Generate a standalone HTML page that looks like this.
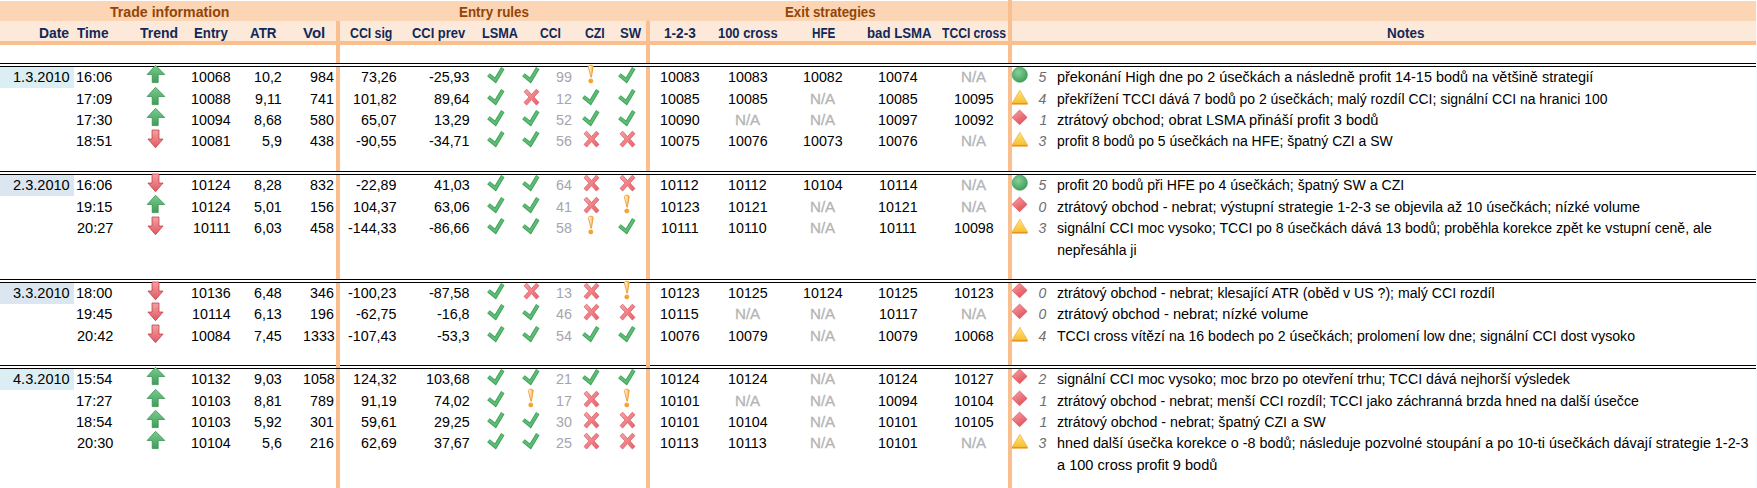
<!DOCTYPE html><html><head><meta charset="utf-8"><style>
html,body{margin:0;padding:0;background:#fff;}body{width:1757px;height:488px;position:relative;overflow:hidden;font-family:"Liberation Sans", sans-serif;}
.b{position:absolute;}.t{position:absolute;white-space:nowrap;font-size:14px;line-height:20px;transform-origin:0 0;}
svg.i{position:absolute;width:18px;height:18px;overflow:visible}
</style></head><body>
<div class="b" style="left:0;top:1px;width:1756px;height:20px;background:#FCD5B4"></div>
<div class="b" style="left:0;top:21px;width:1756px;height:20px;background:#FDE9D9"></div>
<div class="b" style="left:0;top:41px;width:1756px;height:4px;background:#FABF8F"></div>
<div class="b" style="left:336px;top:21px;width:4px;height:467px;background:#FABF8F"></div>
<div class="b" style="left:646px;top:21px;width:4px;height:467px;background:#FABF8F"></div>
<div class="b" style="left:1008px;top:0px;width:4px;height:488px;background:#FABF8F"></div>
<div class="b" style="left:0;top:67px;width:74px;height:21px;background:#DAEEF3"></div>
<div class="b" style="left:0;top:175px;width:74px;height:21px;background:#DCE6F1"></div>
<div class="b" style="left:0;top:283px;width:74px;height:21px;background:#DCE6F1"></div>
<div class="b" style="left:0;top:369px;width:74px;height:21px;background:#DAEEF3"></div>
<div class="b" style="left:0;top:63px;width:1756px;height:1px;background:#000"></div>
<div class="b" style="left:0;top:64px;width:1756px;height:2px;background:#fff"></div>
<div class="b" style="left:0;top:66px;width:1756px;height:1px;background:#000"></div>
<div class="b" style="left:0;top:171px;width:1756px;height:1px;background:#000"></div>
<div class="b" style="left:0;top:172px;width:1756px;height:2px;background:#fff"></div>
<div class="b" style="left:0;top:174px;width:1756px;height:1px;background:#000"></div>
<div class="b" style="left:0;top:279px;width:1756px;height:1px;background:#000"></div>
<div class="b" style="left:0;top:280px;width:1756px;height:2px;background:#fff"></div>
<div class="b" style="left:0;top:282px;width:1756px;height:1px;background:#000"></div>
<div class="b" style="left:0;top:365px;width:1756px;height:1px;background:#000"></div>
<div class="b" style="left:0;top:366px;width:1756px;height:2px;background:#fff"></div>
<div class="b" style="left:0;top:368px;width:1756px;height:1px;background:#000"></div>
<div class="b" style="left:1756px;top:0;width:1px;height:488px;background:#F6F9FC"></div>
<div class="b" style="left:336px;top:365px;width:4px;height:3px;background:#F2B88A"></div>
<div class="b" style="left:646px;top:365px;width:4px;height:3px;background:#F2B88A"></div>
<svg width="0" height="0" style="position:absolute"><defs><linearGradient id="gg" x1="0" y1="0" x2="0" y2="1"><stop offset="0" stop-color="#7ACB8E"/><stop offset="1" stop-color="#3E9E58"/></linearGradient>
<radialGradient id="cg" cx="0.4" cy="0.35" r="0.7"><stop offset="0" stop-color="#86D19A"/><stop offset="1" stop-color="#3C9C56"/></radialGradient>
<linearGradient id="rg" x1="0" y1="0" x2="0" y2="1"><stop offset="0" stop-color="#F4A0A4"/><stop offset="1" stop-color="#E05A62"/></linearGradient>
<linearGradient id="xg" x1="0" y1="0" x2="1" y2="1"><stop offset="0" stop-color="#F4A6AA"/><stop offset="1" stop-color="#EA5E66"/></linearGradient>
<linearGradient id="dg" x1="0" y1="0" x2="0.6" y2="1"><stop offset="0" stop-color="#F6A4A8"/><stop offset="1" stop-color="#E2525B"/></linearGradient><linearGradient id="yg" x1="0" y1="0" x2="0" y2="1"><stop offset="0" stop-color="#FFE680"/><stop offset="1" stop-color="#F8C030"/></linearGradient>
<linearGradient id="eg" x1="0" y1="0" x2="1" y2="0"><stop offset="0.2" stop-color="#FFF6DA"/><stop offset="1" stop-color="#F3AA38"/></linearGradient></defs></svg>
<svg class="i" style="left:147px;top:65px" viewBox="0 0 18 18"><path d="M8.6 0.3 L17.8 9.5 L11.2 9.5 L11.2 17.6 L5.2 17.6 L5.2 9.5 L0.1 9.5 Z" fill="url(#gg)" stroke="#2F8A4A" stroke-width="0.7"/></svg>
<svg class="i" style="left:487px;top:65px" viewBox="0 0 18 18"><path d="M1.4 9.8 L8.4 15.4 L15.8 3.1" fill="none" stroke="#3F9E58" stroke-width="4" stroke-linejoin="miter" stroke-miterlimit="3"/><path d="M1.6 9.9 L8.4 15.3 L15.7 3.3" fill="none" stroke="#5CBD75" stroke-width="2.4" stroke-linejoin="miter" stroke-miterlimit="3"/></svg>
<svg class="i" style="left:522px;top:65px" viewBox="0 0 18 18"><path d="M1.4 9.8 L8.4 15.4 L15.8 3.1" fill="none" stroke="#3F9E58" stroke-width="4" stroke-linejoin="miter" stroke-miterlimit="3"/><path d="M1.6 9.9 L8.4 15.3 L15.7 3.3" fill="none" stroke="#5CBD75" stroke-width="2.4" stroke-linejoin="miter" stroke-miterlimit="3"/></svg>
<svg class="i" style="left:582px;top:65px" viewBox="0 0 18 18"><path d="M6.3 1.5 Q6.8 0.2 8.8 0.2 Q10.9 0.2 11.2 1.5 L9.4 12.2 L8.9 12.2 Z" fill="url(#eg)" stroke="#EC9A30" stroke-width="0.9" stroke-linejoin="round"/><ellipse cx="8.8" cy="15.9" rx="2.1" ry="2.0" fill="#F6A820" stroke="#E8901A" stroke-width="0.6"/></svg>
<svg class="i" style="left:618px;top:65px" viewBox="0 0 18 18"><path d="M1.4 9.8 L8.4 15.4 L15.8 3.1" fill="none" stroke="#3F9E58" stroke-width="4" stroke-linejoin="miter" stroke-miterlimit="3"/><path d="M1.6 9.9 L8.4 15.3 L15.7 3.3" fill="none" stroke="#5CBD75" stroke-width="2.4" stroke-linejoin="miter" stroke-miterlimit="3"/></svg>
<svg class="i" style="left:1012px;top:65px" viewBox="0 0 18 18"><circle cx="7.8" cy="9.75" r="7.6" fill="url(#cg)" stroke="#3A9652" stroke-width="0.6"/></svg>
<svg class="i" style="left:147px;top:86.7px" viewBox="0 0 18 18"><path d="M8.6 0.3 L17.8 9.5 L11.2 9.5 L11.2 17.6 L5.2 17.6 L5.2 9.5 L0.1 9.5 Z" fill="url(#gg)" stroke="#2F8A4A" stroke-width="0.7"/></svg>
<svg class="i" style="left:487px;top:86.7px" viewBox="0 0 18 18"><path d="M1.4 9.8 L8.4 15.4 L15.8 3.1" fill="none" stroke="#3F9E58" stroke-width="4" stroke-linejoin="miter" stroke-miterlimit="3"/><path d="M1.6 9.9 L8.4 15.3 L15.7 3.3" fill="none" stroke="#5CBD75" stroke-width="2.4" stroke-linejoin="miter" stroke-miterlimit="3"/></svg>
<svg class="i" style="left:522px;top:86.7px" viewBox="0 0 18 18"><path d="M2 4.7 L4.7 2.2 L9.5 7.6 L14.3 2.2 L17 4.7 L12 10.1 L17 15.5 L14.3 18 L9.5 12.6 L4.7 18 L2 15.5 L7 10.1 Z" fill="url(#xg)" stroke="#D9505A" stroke-width="0.7" stroke-linejoin="round"/></svg>
<svg class="i" style="left:582px;top:86.7px" viewBox="0 0 18 18"><path d="M1.4 9.8 L8.4 15.4 L15.8 3.1" fill="none" stroke="#3F9E58" stroke-width="4" stroke-linejoin="miter" stroke-miterlimit="3"/><path d="M1.6 9.9 L8.4 15.3 L15.7 3.3" fill="none" stroke="#5CBD75" stroke-width="2.4" stroke-linejoin="miter" stroke-miterlimit="3"/></svg>
<svg class="i" style="left:618px;top:86.7px" viewBox="0 0 18 18"><path d="M1.4 9.8 L8.4 15.4 L15.8 3.1" fill="none" stroke="#3F9E58" stroke-width="4" stroke-linejoin="miter" stroke-miterlimit="3"/><path d="M1.6 9.9 L8.4 15.3 L15.7 3.3" fill="none" stroke="#5CBD75" stroke-width="2.4" stroke-linejoin="miter" stroke-miterlimit="3"/></svg>
<svg class="i" style="left:1012px;top:86.7px" viewBox="0 0 18 18"><path d="M7.8 3.2 L15.6 16.2 L0 16.2 Z" fill="url(#yg)" stroke="#E9A43A" stroke-width="0.6"/><rect x="0" y="16" width="15.6" height="1.6" fill="#E8951E"/></svg>
<svg class="i" style="left:147px;top:108px" viewBox="0 0 18 18"><path d="M8.6 0.3 L17.8 9.5 L11.2 9.5 L11.2 17.6 L5.2 17.6 L5.2 9.5 L0.1 9.5 Z" fill="url(#gg)" stroke="#2F8A4A" stroke-width="0.7"/></svg>
<svg class="i" style="left:487px;top:108px" viewBox="0 0 18 18"><path d="M1.4 9.8 L8.4 15.4 L15.8 3.1" fill="none" stroke="#3F9E58" stroke-width="4" stroke-linejoin="miter" stroke-miterlimit="3"/><path d="M1.6 9.9 L8.4 15.3 L15.7 3.3" fill="none" stroke="#5CBD75" stroke-width="2.4" stroke-linejoin="miter" stroke-miterlimit="3"/></svg>
<svg class="i" style="left:522px;top:108px" viewBox="0 0 18 18"><path d="M1.4 9.8 L8.4 15.4 L15.8 3.1" fill="none" stroke="#3F9E58" stroke-width="4" stroke-linejoin="miter" stroke-miterlimit="3"/><path d="M1.6 9.9 L8.4 15.3 L15.7 3.3" fill="none" stroke="#5CBD75" stroke-width="2.4" stroke-linejoin="miter" stroke-miterlimit="3"/></svg>
<svg class="i" style="left:582px;top:108px" viewBox="0 0 18 18"><path d="M1.4 9.8 L8.4 15.4 L15.8 3.1" fill="none" stroke="#3F9E58" stroke-width="4" stroke-linejoin="miter" stroke-miterlimit="3"/><path d="M1.6 9.9 L8.4 15.3 L15.7 3.3" fill="none" stroke="#5CBD75" stroke-width="2.4" stroke-linejoin="miter" stroke-miterlimit="3"/></svg>
<svg class="i" style="left:618px;top:108px" viewBox="0 0 18 18"><path d="M1.4 9.8 L8.4 15.4 L15.8 3.1" fill="none" stroke="#3F9E58" stroke-width="4" stroke-linejoin="miter" stroke-miterlimit="3"/><path d="M1.6 9.9 L8.4 15.3 L15.7 3.3" fill="none" stroke="#5CBD75" stroke-width="2.4" stroke-linejoin="miter" stroke-miterlimit="3"/></svg>
<svg class="i" style="left:1012px;top:108px" viewBox="0 0 18 18"><path d="M7.6 2.1 L15.1 9.4 L7.6 16.7 L0.1 9.4 Z" fill="url(#dg)" stroke="#D9505A" stroke-width="0.7" stroke-linejoin="round"/></svg>
<svg class="i" style="left:147px;top:129px" viewBox="0 0 18 18"><path d="M5 1 L12 1 L12 10 L16.1 10 L8.5 18.7 L0.9 10 L5 10 Z" fill="url(#rg)" stroke="#B8333B" stroke-width="0.7"/></svg>
<svg class="i" style="left:487px;top:129px" viewBox="0 0 18 18"><path d="M1.4 9.8 L8.4 15.4 L15.8 3.1" fill="none" stroke="#3F9E58" stroke-width="4" stroke-linejoin="miter" stroke-miterlimit="3"/><path d="M1.6 9.9 L8.4 15.3 L15.7 3.3" fill="none" stroke="#5CBD75" stroke-width="2.4" stroke-linejoin="miter" stroke-miterlimit="3"/></svg>
<svg class="i" style="left:522px;top:129px" viewBox="0 0 18 18"><path d="M1.4 9.8 L8.4 15.4 L15.8 3.1" fill="none" stroke="#3F9E58" stroke-width="4" stroke-linejoin="miter" stroke-miterlimit="3"/><path d="M1.6 9.9 L8.4 15.3 L15.7 3.3" fill="none" stroke="#5CBD75" stroke-width="2.4" stroke-linejoin="miter" stroke-miterlimit="3"/></svg>
<svg class="i" style="left:582px;top:129px" viewBox="0 0 18 18"><path d="M2 4.7 L4.7 2.2 L9.5 7.6 L14.3 2.2 L17 4.7 L12 10.1 L17 15.5 L14.3 18 L9.5 12.6 L4.7 18 L2 15.5 L7 10.1 Z" fill="url(#xg)" stroke="#D9505A" stroke-width="0.7" stroke-linejoin="round"/></svg>
<svg class="i" style="left:618px;top:129px" viewBox="0 0 18 18"><path d="M2 4.7 L4.7 2.2 L9.5 7.6 L14.3 2.2 L17 4.7 L12 10.1 L17 15.5 L14.3 18 L9.5 12.6 L4.7 18 L2 15.5 L7 10.1 Z" fill="url(#xg)" stroke="#D9505A" stroke-width="0.7" stroke-linejoin="round"/></svg>
<svg class="i" style="left:1012px;top:129px" viewBox="0 0 18 18"><path d="M7.8 3.2 L15.6 16.2 L0 16.2 Z" fill="url(#yg)" stroke="#E9A43A" stroke-width="0.6"/><rect x="0" y="16" width="15.6" height="1.6" fill="#E8951E"/></svg>
<svg class="i" style="left:147px;top:173px" viewBox="0 0 18 18"><path d="M5 1 L12 1 L12 10 L16.1 10 L8.5 18.7 L0.9 10 L5 10 Z" fill="url(#rg)" stroke="#B8333B" stroke-width="0.7"/></svg>
<svg class="i" style="left:487px;top:173px" viewBox="0 0 18 18"><path d="M1.4 9.8 L8.4 15.4 L15.8 3.1" fill="none" stroke="#3F9E58" stroke-width="4" stroke-linejoin="miter" stroke-miterlimit="3"/><path d="M1.6 9.9 L8.4 15.3 L15.7 3.3" fill="none" stroke="#5CBD75" stroke-width="2.4" stroke-linejoin="miter" stroke-miterlimit="3"/></svg>
<svg class="i" style="left:522px;top:173px" viewBox="0 0 18 18"><path d="M1.4 9.8 L8.4 15.4 L15.8 3.1" fill="none" stroke="#3F9E58" stroke-width="4" stroke-linejoin="miter" stroke-miterlimit="3"/><path d="M1.6 9.9 L8.4 15.3 L15.7 3.3" fill="none" stroke="#5CBD75" stroke-width="2.4" stroke-linejoin="miter" stroke-miterlimit="3"/></svg>
<svg class="i" style="left:582px;top:173px" viewBox="0 0 18 18"><path d="M2 4.7 L4.7 2.2 L9.5 7.6 L14.3 2.2 L17 4.7 L12 10.1 L17 15.5 L14.3 18 L9.5 12.6 L4.7 18 L2 15.5 L7 10.1 Z" fill="url(#xg)" stroke="#D9505A" stroke-width="0.7" stroke-linejoin="round"/></svg>
<svg class="i" style="left:618px;top:173px" viewBox="0 0 18 18"><path d="M2 4.7 L4.7 2.2 L9.5 7.6 L14.3 2.2 L17 4.7 L12 10.1 L17 15.5 L14.3 18 L9.5 12.6 L4.7 18 L2 15.5 L7 10.1 Z" fill="url(#xg)" stroke="#D9505A" stroke-width="0.7" stroke-linejoin="round"/></svg>
<svg class="i" style="left:1012px;top:173px" viewBox="0 0 18 18"><circle cx="7.8" cy="9.75" r="7.6" fill="url(#cg)" stroke="#3A9652" stroke-width="0.6"/></svg>
<svg class="i" style="left:147px;top:194.8px" viewBox="0 0 18 18"><path d="M8.6 0.3 L17.8 9.5 L11.2 9.5 L11.2 17.6 L5.2 17.6 L5.2 9.5 L0.1 9.5 Z" fill="url(#gg)" stroke="#2F8A4A" stroke-width="0.7"/></svg>
<svg class="i" style="left:487px;top:194.8px" viewBox="0 0 18 18"><path d="M1.4 9.8 L8.4 15.4 L15.8 3.1" fill="none" stroke="#3F9E58" stroke-width="4" stroke-linejoin="miter" stroke-miterlimit="3"/><path d="M1.6 9.9 L8.4 15.3 L15.7 3.3" fill="none" stroke="#5CBD75" stroke-width="2.4" stroke-linejoin="miter" stroke-miterlimit="3"/></svg>
<svg class="i" style="left:522px;top:194.8px" viewBox="0 0 18 18"><path d="M1.4 9.8 L8.4 15.4 L15.8 3.1" fill="none" stroke="#3F9E58" stroke-width="4" stroke-linejoin="miter" stroke-miterlimit="3"/><path d="M1.6 9.9 L8.4 15.3 L15.7 3.3" fill="none" stroke="#5CBD75" stroke-width="2.4" stroke-linejoin="miter" stroke-miterlimit="3"/></svg>
<svg class="i" style="left:582px;top:194.8px" viewBox="0 0 18 18"><path d="M2 4.7 L4.7 2.2 L9.5 7.6 L14.3 2.2 L17 4.7 L12 10.1 L17 15.5 L14.3 18 L9.5 12.6 L4.7 18 L2 15.5 L7 10.1 Z" fill="url(#xg)" stroke="#D9505A" stroke-width="0.7" stroke-linejoin="round"/></svg>
<svg class="i" style="left:618px;top:194.8px" viewBox="0 0 18 18"><path d="M6.3 1.5 Q6.8 0.2 8.8 0.2 Q10.9 0.2 11.2 1.5 L9.4 12.2 L8.9 12.2 Z" fill="url(#eg)" stroke="#EC9A30" stroke-width="0.9" stroke-linejoin="round"/><ellipse cx="8.8" cy="15.9" rx="2.1" ry="2.0" fill="#F6A820" stroke="#E8901A" stroke-width="0.6"/></svg>
<svg class="i" style="left:1012px;top:194.8px" viewBox="0 0 18 18"><path d="M7.6 2.1 L15.1 9.4 L7.6 16.7 L0.1 9.4 Z" fill="url(#dg)" stroke="#D9505A" stroke-width="0.7" stroke-linejoin="round"/></svg>
<svg class="i" style="left:147px;top:216px" viewBox="0 0 18 18"><path d="M5 1 L12 1 L12 10 L16.1 10 L8.5 18.7 L0.9 10 L5 10 Z" fill="url(#rg)" stroke="#B8333B" stroke-width="0.7"/></svg>
<svg class="i" style="left:487px;top:216px" viewBox="0 0 18 18"><path d="M1.4 9.8 L8.4 15.4 L15.8 3.1" fill="none" stroke="#3F9E58" stroke-width="4" stroke-linejoin="miter" stroke-miterlimit="3"/><path d="M1.6 9.9 L8.4 15.3 L15.7 3.3" fill="none" stroke="#5CBD75" stroke-width="2.4" stroke-linejoin="miter" stroke-miterlimit="3"/></svg>
<svg class="i" style="left:522px;top:216px" viewBox="0 0 18 18"><path d="M1.4 9.8 L8.4 15.4 L15.8 3.1" fill="none" stroke="#3F9E58" stroke-width="4" stroke-linejoin="miter" stroke-miterlimit="3"/><path d="M1.6 9.9 L8.4 15.3 L15.7 3.3" fill="none" stroke="#5CBD75" stroke-width="2.4" stroke-linejoin="miter" stroke-miterlimit="3"/></svg>
<svg class="i" style="left:582px;top:216px" viewBox="0 0 18 18"><path d="M6.3 1.5 Q6.8 0.2 8.8 0.2 Q10.9 0.2 11.2 1.5 L9.4 12.2 L8.9 12.2 Z" fill="url(#eg)" stroke="#EC9A30" stroke-width="0.9" stroke-linejoin="round"/><ellipse cx="8.8" cy="15.9" rx="2.1" ry="2.0" fill="#F6A820" stroke="#E8901A" stroke-width="0.6"/></svg>
<svg class="i" style="left:618px;top:216px" viewBox="0 0 18 18"><path d="M1.4 9.8 L8.4 15.4 L15.8 3.1" fill="none" stroke="#3F9E58" stroke-width="4" stroke-linejoin="miter" stroke-miterlimit="3"/><path d="M1.6 9.9 L8.4 15.3 L15.7 3.3" fill="none" stroke="#5CBD75" stroke-width="2.4" stroke-linejoin="miter" stroke-miterlimit="3"/></svg>
<svg class="i" style="left:1012px;top:216px" viewBox="0 0 18 18"><path d="M7.8 3.2 L15.6 16.2 L0 16.2 Z" fill="url(#yg)" stroke="#E9A43A" stroke-width="0.6"/><rect x="0" y="16" width="15.6" height="1.6" fill="#E8951E"/></svg>
<svg class="i" style="left:147px;top:280.5px" viewBox="0 0 18 18"><path d="M5 1 L12 1 L12 10 L16.1 10 L8.5 18.7 L0.9 10 L5 10 Z" fill="url(#rg)" stroke="#B8333B" stroke-width="0.7"/></svg>
<svg class="i" style="left:487px;top:280.5px" viewBox="0 0 18 18"><path d="M1.4 9.8 L8.4 15.4 L15.8 3.1" fill="none" stroke="#3F9E58" stroke-width="4" stroke-linejoin="miter" stroke-miterlimit="3"/><path d="M1.6 9.9 L8.4 15.3 L15.7 3.3" fill="none" stroke="#5CBD75" stroke-width="2.4" stroke-linejoin="miter" stroke-miterlimit="3"/></svg>
<svg class="i" style="left:522px;top:280.5px" viewBox="0 0 18 18"><path d="M2 4.7 L4.7 2.2 L9.5 7.6 L14.3 2.2 L17 4.7 L12 10.1 L17 15.5 L14.3 18 L9.5 12.6 L4.7 18 L2 15.5 L7 10.1 Z" fill="url(#xg)" stroke="#D9505A" stroke-width="0.7" stroke-linejoin="round"/></svg>
<svg class="i" style="left:582px;top:280.5px" viewBox="0 0 18 18"><path d="M2 4.7 L4.7 2.2 L9.5 7.6 L14.3 2.2 L17 4.7 L12 10.1 L17 15.5 L14.3 18 L9.5 12.6 L4.7 18 L2 15.5 L7 10.1 Z" fill="url(#xg)" stroke="#D9505A" stroke-width="0.7" stroke-linejoin="round"/></svg>
<svg class="i" style="left:618px;top:280.5px" viewBox="0 0 18 18"><path d="M6.3 1.5 Q6.8 0.2 8.8 0.2 Q10.9 0.2 11.2 1.5 L9.4 12.2 L8.9 12.2 Z" fill="url(#eg)" stroke="#EC9A30" stroke-width="0.9" stroke-linejoin="round"/><ellipse cx="8.8" cy="15.9" rx="2.1" ry="2.0" fill="#F6A820" stroke="#E8901A" stroke-width="0.6"/></svg>
<svg class="i" style="left:1012px;top:280.5px" viewBox="0 0 18 18"><path d="M7.6 2.1 L15.1 9.4 L7.6 16.7 L0.1 9.4 Z" fill="url(#dg)" stroke="#D9505A" stroke-width="0.7" stroke-linejoin="round"/></svg>
<svg class="i" style="left:147px;top:302.3px" viewBox="0 0 18 18"><path d="M5 1 L12 1 L12 10 L16.1 10 L8.5 18.7 L0.9 10 L5 10 Z" fill="url(#rg)" stroke="#B8333B" stroke-width="0.7"/></svg>
<svg class="i" style="left:487px;top:302.3px" viewBox="0 0 18 18"><path d="M1.4 9.8 L8.4 15.4 L15.8 3.1" fill="none" stroke="#3F9E58" stroke-width="4" stroke-linejoin="miter" stroke-miterlimit="3"/><path d="M1.6 9.9 L8.4 15.3 L15.7 3.3" fill="none" stroke="#5CBD75" stroke-width="2.4" stroke-linejoin="miter" stroke-miterlimit="3"/></svg>
<svg class="i" style="left:522px;top:302.3px" viewBox="0 0 18 18"><path d="M1.4 9.8 L8.4 15.4 L15.8 3.1" fill="none" stroke="#3F9E58" stroke-width="4" stroke-linejoin="miter" stroke-miterlimit="3"/><path d="M1.6 9.9 L8.4 15.3 L15.7 3.3" fill="none" stroke="#5CBD75" stroke-width="2.4" stroke-linejoin="miter" stroke-miterlimit="3"/></svg>
<svg class="i" style="left:582px;top:302.3px" viewBox="0 0 18 18"><path d="M2 4.7 L4.7 2.2 L9.5 7.6 L14.3 2.2 L17 4.7 L12 10.1 L17 15.5 L14.3 18 L9.5 12.6 L4.7 18 L2 15.5 L7 10.1 Z" fill="url(#xg)" stroke="#D9505A" stroke-width="0.7" stroke-linejoin="round"/></svg>
<svg class="i" style="left:618px;top:302.3px" viewBox="0 0 18 18"><path d="M2 4.7 L4.7 2.2 L9.5 7.6 L14.3 2.2 L17 4.7 L12 10.1 L17 15.5 L14.3 18 L9.5 12.6 L4.7 18 L2 15.5 L7 10.1 Z" fill="url(#xg)" stroke="#D9505A" stroke-width="0.7" stroke-linejoin="round"/></svg>
<svg class="i" style="left:1012px;top:302.3px" viewBox="0 0 18 18"><path d="M7.6 2.1 L15.1 9.4 L7.6 16.7 L0.1 9.4 Z" fill="url(#dg)" stroke="#D9505A" stroke-width="0.7" stroke-linejoin="round"/></svg>
<svg class="i" style="left:147px;top:324px" viewBox="0 0 18 18"><path d="M5 1 L12 1 L12 10 L16.1 10 L8.5 18.7 L0.9 10 L5 10 Z" fill="url(#rg)" stroke="#B8333B" stroke-width="0.7"/></svg>
<svg class="i" style="left:487px;top:324px" viewBox="0 0 18 18"><path d="M1.4 9.8 L8.4 15.4 L15.8 3.1" fill="none" stroke="#3F9E58" stroke-width="4" stroke-linejoin="miter" stroke-miterlimit="3"/><path d="M1.6 9.9 L8.4 15.3 L15.7 3.3" fill="none" stroke="#5CBD75" stroke-width="2.4" stroke-linejoin="miter" stroke-miterlimit="3"/></svg>
<svg class="i" style="left:522px;top:324px" viewBox="0 0 18 18"><path d="M1.4 9.8 L8.4 15.4 L15.8 3.1" fill="none" stroke="#3F9E58" stroke-width="4" stroke-linejoin="miter" stroke-miterlimit="3"/><path d="M1.6 9.9 L8.4 15.3 L15.7 3.3" fill="none" stroke="#5CBD75" stroke-width="2.4" stroke-linejoin="miter" stroke-miterlimit="3"/></svg>
<svg class="i" style="left:582px;top:324px" viewBox="0 0 18 18"><path d="M1.4 9.8 L8.4 15.4 L15.8 3.1" fill="none" stroke="#3F9E58" stroke-width="4" stroke-linejoin="miter" stroke-miterlimit="3"/><path d="M1.6 9.9 L8.4 15.3 L15.7 3.3" fill="none" stroke="#5CBD75" stroke-width="2.4" stroke-linejoin="miter" stroke-miterlimit="3"/></svg>
<svg class="i" style="left:618px;top:324px" viewBox="0 0 18 18"><path d="M1.4 9.8 L8.4 15.4 L15.8 3.1" fill="none" stroke="#3F9E58" stroke-width="4" stroke-linejoin="miter" stroke-miterlimit="3"/><path d="M1.6 9.9 L8.4 15.3 L15.7 3.3" fill="none" stroke="#5CBD75" stroke-width="2.4" stroke-linejoin="miter" stroke-miterlimit="3"/></svg>
<svg class="i" style="left:1012px;top:324px" viewBox="0 0 18 18"><path d="M7.8 3.2 L15.6 16.2 L0 16.2 Z" fill="url(#yg)" stroke="#E9A43A" stroke-width="0.6"/><rect x="0" y="16" width="15.6" height="1.6" fill="#E8951E"/></svg>
<svg class="i" style="left:147px;top:367px" viewBox="0 0 18 18"><path d="M8.6 0.3 L17.8 9.5 L11.2 9.5 L11.2 17.6 L5.2 17.6 L5.2 9.5 L0.1 9.5 Z" fill="url(#gg)" stroke="#2F8A4A" stroke-width="0.7"/></svg>
<svg class="i" style="left:487px;top:367px" viewBox="0 0 18 18"><path d="M1.4 9.8 L8.4 15.4 L15.8 3.1" fill="none" stroke="#3F9E58" stroke-width="4" stroke-linejoin="miter" stroke-miterlimit="3"/><path d="M1.6 9.9 L8.4 15.3 L15.7 3.3" fill="none" stroke="#5CBD75" stroke-width="2.4" stroke-linejoin="miter" stroke-miterlimit="3"/></svg>
<svg class="i" style="left:522px;top:367px" viewBox="0 0 18 18"><path d="M1.4 9.8 L8.4 15.4 L15.8 3.1" fill="none" stroke="#3F9E58" stroke-width="4" stroke-linejoin="miter" stroke-miterlimit="3"/><path d="M1.6 9.9 L8.4 15.3 L15.7 3.3" fill="none" stroke="#5CBD75" stroke-width="2.4" stroke-linejoin="miter" stroke-miterlimit="3"/></svg>
<svg class="i" style="left:582px;top:367px" viewBox="0 0 18 18"><path d="M1.4 9.8 L8.4 15.4 L15.8 3.1" fill="none" stroke="#3F9E58" stroke-width="4" stroke-linejoin="miter" stroke-miterlimit="3"/><path d="M1.6 9.9 L8.4 15.3 L15.7 3.3" fill="none" stroke="#5CBD75" stroke-width="2.4" stroke-linejoin="miter" stroke-miterlimit="3"/></svg>
<svg class="i" style="left:618px;top:367px" viewBox="0 0 18 18"><path d="M1.4 9.8 L8.4 15.4 L15.8 3.1" fill="none" stroke="#3F9E58" stroke-width="4" stroke-linejoin="miter" stroke-miterlimit="3"/><path d="M1.6 9.9 L8.4 15.3 L15.7 3.3" fill="none" stroke="#5CBD75" stroke-width="2.4" stroke-linejoin="miter" stroke-miterlimit="3"/></svg>
<svg class="i" style="left:1012px;top:367px" viewBox="0 0 18 18"><path d="M7.6 2.1 L15.1 9.4 L7.6 16.7 L0.1 9.4 Z" fill="url(#dg)" stroke="#D9505A" stroke-width="0.7" stroke-linejoin="round"/></svg>
<svg class="i" style="left:147px;top:389px" viewBox="0 0 18 18"><path d="M8.6 0.3 L17.8 9.5 L11.2 9.5 L11.2 17.6 L5.2 17.6 L5.2 9.5 L0.1 9.5 Z" fill="url(#gg)" stroke="#2F8A4A" stroke-width="0.7"/></svg>
<svg class="i" style="left:487px;top:389px" viewBox="0 0 18 18"><path d="M1.4 9.8 L8.4 15.4 L15.8 3.1" fill="none" stroke="#3F9E58" stroke-width="4" stroke-linejoin="miter" stroke-miterlimit="3"/><path d="M1.6 9.9 L8.4 15.3 L15.7 3.3" fill="none" stroke="#5CBD75" stroke-width="2.4" stroke-linejoin="miter" stroke-miterlimit="3"/></svg>
<svg class="i" style="left:522px;top:389px" viewBox="0 0 18 18"><path d="M6.3 1.5 Q6.8 0.2 8.8 0.2 Q10.9 0.2 11.2 1.5 L9.4 12.2 L8.9 12.2 Z" fill="url(#eg)" stroke="#EC9A30" stroke-width="0.9" stroke-linejoin="round"/><ellipse cx="8.8" cy="15.9" rx="2.1" ry="2.0" fill="#F6A820" stroke="#E8901A" stroke-width="0.6"/></svg>
<svg class="i" style="left:582px;top:389px" viewBox="0 0 18 18"><path d="M2 4.7 L4.7 2.2 L9.5 7.6 L14.3 2.2 L17 4.7 L12 10.1 L17 15.5 L14.3 18 L9.5 12.6 L4.7 18 L2 15.5 L7 10.1 Z" fill="url(#xg)" stroke="#D9505A" stroke-width="0.7" stroke-linejoin="round"/></svg>
<svg class="i" style="left:618px;top:389px" viewBox="0 0 18 18"><path d="M6.3 1.5 Q6.8 0.2 8.8 0.2 Q10.9 0.2 11.2 1.5 L9.4 12.2 L8.9 12.2 Z" fill="url(#eg)" stroke="#EC9A30" stroke-width="0.9" stroke-linejoin="round"/><ellipse cx="8.8" cy="15.9" rx="2.1" ry="2.0" fill="#F6A820" stroke="#E8901A" stroke-width="0.6"/></svg>
<svg class="i" style="left:1012px;top:389px" viewBox="0 0 18 18"><path d="M7.6 2.1 L15.1 9.4 L7.6 16.7 L0.1 9.4 Z" fill="url(#dg)" stroke="#D9505A" stroke-width="0.7" stroke-linejoin="round"/></svg>
<svg class="i" style="left:147px;top:410.3px" viewBox="0 0 18 18"><path d="M8.6 0.3 L17.8 9.5 L11.2 9.5 L11.2 17.6 L5.2 17.6 L5.2 9.5 L0.1 9.5 Z" fill="url(#gg)" stroke="#2F8A4A" stroke-width="0.7"/></svg>
<svg class="i" style="left:487px;top:410.3px" viewBox="0 0 18 18"><path d="M1.4 9.8 L8.4 15.4 L15.8 3.1" fill="none" stroke="#3F9E58" stroke-width="4" stroke-linejoin="miter" stroke-miterlimit="3"/><path d="M1.6 9.9 L8.4 15.3 L15.7 3.3" fill="none" stroke="#5CBD75" stroke-width="2.4" stroke-linejoin="miter" stroke-miterlimit="3"/></svg>
<svg class="i" style="left:522px;top:410.3px" viewBox="0 0 18 18"><path d="M1.4 9.8 L8.4 15.4 L15.8 3.1" fill="none" stroke="#3F9E58" stroke-width="4" stroke-linejoin="miter" stroke-miterlimit="3"/><path d="M1.6 9.9 L8.4 15.3 L15.7 3.3" fill="none" stroke="#5CBD75" stroke-width="2.4" stroke-linejoin="miter" stroke-miterlimit="3"/></svg>
<svg class="i" style="left:582px;top:410.3px" viewBox="0 0 18 18"><path d="M2 4.7 L4.7 2.2 L9.5 7.6 L14.3 2.2 L17 4.7 L12 10.1 L17 15.5 L14.3 18 L9.5 12.6 L4.7 18 L2 15.5 L7 10.1 Z" fill="url(#xg)" stroke="#D9505A" stroke-width="0.7" stroke-linejoin="round"/></svg>
<svg class="i" style="left:618px;top:410.3px" viewBox="0 0 18 18"><path d="M2 4.7 L4.7 2.2 L9.5 7.6 L14.3 2.2 L17 4.7 L12 10.1 L17 15.5 L14.3 18 L9.5 12.6 L4.7 18 L2 15.5 L7 10.1 Z" fill="url(#xg)" stroke="#D9505A" stroke-width="0.7" stroke-linejoin="round"/></svg>
<svg class="i" style="left:1012px;top:410.3px" viewBox="0 0 18 18"><path d="M7.6 2.1 L15.1 9.4 L7.6 16.7 L0.1 9.4 Z" fill="url(#dg)" stroke="#D9505A" stroke-width="0.7" stroke-linejoin="round"/></svg>
<svg class="i" style="left:147px;top:431.2px" viewBox="0 0 18 18"><path d="M8.6 0.3 L17.8 9.5 L11.2 9.5 L11.2 17.6 L5.2 17.6 L5.2 9.5 L0.1 9.5 Z" fill="url(#gg)" stroke="#2F8A4A" stroke-width="0.7"/></svg>
<svg class="i" style="left:487px;top:431.2px" viewBox="0 0 18 18"><path d="M1.4 9.8 L8.4 15.4 L15.8 3.1" fill="none" stroke="#3F9E58" stroke-width="4" stroke-linejoin="miter" stroke-miterlimit="3"/><path d="M1.6 9.9 L8.4 15.3 L15.7 3.3" fill="none" stroke="#5CBD75" stroke-width="2.4" stroke-linejoin="miter" stroke-miterlimit="3"/></svg>
<svg class="i" style="left:522px;top:431.2px" viewBox="0 0 18 18"><path d="M1.4 9.8 L8.4 15.4 L15.8 3.1" fill="none" stroke="#3F9E58" stroke-width="4" stroke-linejoin="miter" stroke-miterlimit="3"/><path d="M1.6 9.9 L8.4 15.3 L15.7 3.3" fill="none" stroke="#5CBD75" stroke-width="2.4" stroke-linejoin="miter" stroke-miterlimit="3"/></svg>
<svg class="i" style="left:582px;top:431.2px" viewBox="0 0 18 18"><path d="M2 4.7 L4.7 2.2 L9.5 7.6 L14.3 2.2 L17 4.7 L12 10.1 L17 15.5 L14.3 18 L9.5 12.6 L4.7 18 L2 15.5 L7 10.1 Z" fill="url(#xg)" stroke="#D9505A" stroke-width="0.7" stroke-linejoin="round"/></svg>
<svg class="i" style="left:618px;top:431.2px" viewBox="0 0 18 18"><path d="M2 4.7 L4.7 2.2 L9.5 7.6 L14.3 2.2 L17 4.7 L12 10.1 L17 15.5 L14.3 18 L9.5 12.6 L4.7 18 L2 15.5 L7 10.1 Z" fill="url(#xg)" stroke="#D9505A" stroke-width="0.7" stroke-linejoin="round"/></svg>
<svg class="i" style="left:1012px;top:431.2px" viewBox="0 0 18 18"><path d="M7.8 3.2 L15.6 16.2 L0 16.2 Z" fill="url(#yg)" stroke="#E9A43A" stroke-width="0.6"/><rect x="0" y="16" width="15.6" height="1.6" fill="#E8951E"/></svg>
<div class="t" style="left:109.70px;top:2.00px;color:#924506;font-weight:bold;transform:scaleX(1.0103)">Trade information</div>
<div class="t" style="left:459.30px;top:2.00px;color:#924506;font-weight:bold;transform:scaleX(0.9557)">Entry rules</div>
<div class="t" style="left:785.20px;top:2.00px;color:#924506;font-weight:bold;transform:scaleX(0.9466)">Exit strategies</div>
<div class="t" style="left:38.50px;top:23.00px;color:#10295A;font-weight:bold;transform:scaleX(0.9915)">Date</div>
<div class="t" style="left:77.00px;top:23.00px;color:#10295A;font-weight:bold;transform:scaleX(0.9713)">Time</div>
<div class="t" style="left:140.20px;top:23.00px;color:#10295A;font-weight:bold;transform:scaleX(0.9983)">Trend</div>
<div class="t" style="left:193.60px;top:23.00px;color:#10295A;font-weight:bold;transform:scaleX(0.9444)">Entry</div>
<div class="t" style="left:250.40px;top:23.00px;color:#10295A;font-weight:bold;transform:scaleX(0.9557)">ATR</div>
<div class="t" style="left:302.90px;top:23.00px;color:#10295A;font-weight:bold;transform:scaleX(1.0730)">Vol</div>
<div class="t" style="left:350.00px;top:23.00px;color:#10295A;font-weight:bold;transform:scaleX(0.8789)">CCI sig</div>
<div class="t" style="left:412.00px;top:23.00px;color:#10295A;font-weight:bold;transform:scaleX(0.9224)">CCI prev</div>
<div class="t" style="left:481.70px;top:23.00px;color:#10295A;font-weight:bold;transform:scaleX(0.9077)">LSMA</div>
<div class="t" style="left:540.40px;top:23.00px;color:#10295A;font-weight:bold;transform:scaleX(0.8613)">CCI</div>
<div class="t" style="left:585.00px;top:23.00px;color:#10295A;font-weight:bold;transform:scaleX(0.8771)">CZI</div>
<div class="t" style="left:619.60px;top:23.00px;color:#10295A;font-weight:bold;transform:scaleX(0.9384)">SW</div>
<div class="t" style="left:664.00px;top:23.00px;color:#10295A;font-weight:bold;transform:scaleX(0.9727)">1-2-3</div>
<div class="t" style="left:718.20px;top:23.00px;color:#10295A;font-weight:bold;transform:scaleX(0.9226)">100 cross</div>
<div class="t" style="left:811.90px;top:23.00px;color:#10295A;font-weight:bold;transform:scaleX(0.8351)">HFE</div>
<div class="t" style="left:866.60px;top:23.00px;color:#10295A;font-weight:bold;transform:scaleX(0.9439)">bad LSMA</div>
<div class="t" style="left:942.00px;top:23.00px;color:#10295A;font-weight:bold;transform:scaleX(0.8648)">TCCI cross</div>
<div class="t" style="left:1387.40px;top:23.00px;color:#10295A;font-weight:bold;transform:scaleX(0.9614)">Notes</div>
<div class="t" style="left:12.60px;top:67.00px;color:#000;transform:scaleX(1.0400)">1.3.2010</div>
<div class="t" style="left:12.60px;top:175.00px;color:#000;transform:scaleX(1.0400)">2.3.2010</div>
<div class="t" style="left:12.60px;top:282.50px;color:#000;transform:scaleX(1.0400)">3.3.2010</div>
<div class="t" style="left:12.60px;top:369.00px;color:#000;transform:scaleX(1.0400)">4.3.2010</div>
<div class="t" style="left:75.96px;top:67.00px;color:#000;transform:scaleX(1.0400)">16:06</div>
<div class="t" style="left:190.67px;top:67.00px;color:#000;transform:scaleX(1.0200)">10068</div>
<div class="t" style="left:253.79px;top:67.00px;color:#000;transform:scaleX(1.0200)">10,2</div>
<div class="t" style="left:310.46px;top:67.00px;color:#000;transform:scaleX(1.0200)">984</div>
<div class="t" style="left:361.15px;top:67.00px;color:#000;transform:scaleX(1.0200)">73,26</div>
<div class="t" style="left:429.29px;top:67.00px;color:#000;transform:scaleX(1.0200)">-25,93</div>
<div class="t" style="left:555.90px;top:67.00px;color:#A5A5AD;transform:scaleX(1.0200)">99</div>
<div class="t" style="left:659.53px;top:67.00px;color:#000;transform:scaleX(1.0200)">10083</div>
<div class="t" style="left:727.73px;top:67.00px;color:#000;transform:scaleX(1.0200)">10083</div>
<div class="t" style="left:803.13px;top:67.00px;color:#000;transform:scaleX(1.0200)">10082</div>
<div class="t" style="left:878.43px;top:67.00px;color:#000;transform:scaleX(1.0200)">10074</div>
<div class="t" style="left:960.70px;top:67.00px;color:#B4B4B4;-webkit-text-stroke:0.3px #B4B4B4;transform:scaleX(1.0800)">N/A</div>
<div class="t" style="left:1038.50px;top:67.00px;color:#6E6E6E;font-style:italic">5</div>
<div class="t" style="left:1057.20px;top:67.00px;color:#000;transform:scaleX(1.0315)">překonání High dne po 2 úsečkách a následně profit 14-15 bodů na většině strategií</div>
<div class="t" style="left:75.96px;top:88.70px;color:#000;transform:scaleX(1.0400)">17:09</div>
<div class="t" style="left:190.67px;top:88.70px;color:#000;transform:scaleX(1.0200)">10088</div>
<div class="t" style="left:254.85px;top:88.70px;color:#000;transform:scaleX(1.0200)">9,11</div>
<div class="t" style="left:310.46px;top:88.70px;color:#000;transform:scaleX(1.0200)">741</div>
<div class="t" style="left:353.21px;top:88.70px;color:#000;transform:scaleX(1.0200)">101,82</div>
<div class="t" style="left:434.05px;top:88.70px;color:#000;transform:scaleX(1.0200)">89,64</div>
<div class="t" style="left:555.90px;top:88.70px;color:#A5A5AD;transform:scaleX(1.0200)">12</div>
<div class="t" style="left:659.53px;top:88.70px;color:#000;transform:scaleX(1.0200)">10085</div>
<div class="t" style="left:727.73px;top:88.70px;color:#000;transform:scaleX(1.0200)">10085</div>
<div class="t" style="left:810.10px;top:88.70px;color:#B4B4B4;-webkit-text-stroke:0.3px #B4B4B4;transform:scaleX(1.0800)">N/A</div>
<div class="t" style="left:878.43px;top:88.70px;color:#000;transform:scaleX(1.0200)">10085</div>
<div class="t" style="left:953.73px;top:88.70px;color:#000;transform:scaleX(1.0200)">10095</div>
<div class="t" style="left:1038.50px;top:88.70px;color:#6E6E6E;font-style:italic">4</div>
<div class="t" style="left:1057.20px;top:88.70px;color:#000;transform:scaleX(0.9955)">překřížení TCCI dává 7 bodů po 2 úsečkách; malý rozdíl CCI; signální CCI na hranici 100</div>
<div class="t" style="left:75.96px;top:110.00px;color:#000;transform:scaleX(1.0400)">17:30</div>
<div class="t" style="left:190.67px;top:110.00px;color:#000;transform:scaleX(1.0200)">10094</div>
<div class="t" style="left:253.79px;top:110.00px;color:#000;transform:scaleX(1.0200)">8,68</div>
<div class="t" style="left:310.46px;top:110.00px;color:#000;transform:scaleX(1.0200)">580</div>
<div class="t" style="left:361.15px;top:110.00px;color:#000;transform:scaleX(1.0200)">65,07</div>
<div class="t" style="left:434.05px;top:110.00px;color:#000;transform:scaleX(1.0200)">13,29</div>
<div class="t" style="left:555.90px;top:110.00px;color:#A5A5AD;transform:scaleX(1.0200)">52</div>
<div class="t" style="left:659.53px;top:110.00px;color:#000;transform:scaleX(1.0200)">10090</div>
<div class="t" style="left:734.70px;top:110.00px;color:#B4B4B4;-webkit-text-stroke:0.3px #B4B4B4;transform:scaleX(1.0800)">N/A</div>
<div class="t" style="left:810.10px;top:110.00px;color:#B4B4B4;-webkit-text-stroke:0.3px #B4B4B4;transform:scaleX(1.0800)">N/A</div>
<div class="t" style="left:878.43px;top:110.00px;color:#000;transform:scaleX(1.0200)">10097</div>
<div class="t" style="left:953.73px;top:110.00px;color:#000;transform:scaleX(1.0200)">10092</div>
<div class="t" style="left:1039.50px;top:110.00px;color:#6E6E6E;font-style:italic">1</div>
<div class="t" style="left:1057.20px;top:110.00px;color:#000;transform:scaleX(1.0459)">ztrátový obchod; obrat LSMA přináší profit 3 bodů</div>
<div class="t" style="left:75.96px;top:131.00px;color:#000;transform:scaleX(1.0400)">18:51</div>
<div class="t" style="left:190.67px;top:131.00px;color:#000;transform:scaleX(1.0200)">10081</div>
<div class="t" style="left:261.73px;top:131.00px;color:#000;transform:scaleX(1.0200)">5,9</div>
<div class="t" style="left:310.46px;top:131.00px;color:#000;transform:scaleX(1.0200)">438</div>
<div class="t" style="left:356.39px;top:131.00px;color:#000;transform:scaleX(1.0200)">-90,55</div>
<div class="t" style="left:429.29px;top:131.00px;color:#000;transform:scaleX(1.0200)">-34,71</div>
<div class="t" style="left:555.90px;top:131.00px;color:#A5A5AD;transform:scaleX(1.0200)">56</div>
<div class="t" style="left:659.53px;top:131.00px;color:#000;transform:scaleX(1.0200)">10075</div>
<div class="t" style="left:727.73px;top:131.00px;color:#000;transform:scaleX(1.0200)">10076</div>
<div class="t" style="left:803.13px;top:131.00px;color:#000;transform:scaleX(1.0200)">10073</div>
<div class="t" style="left:878.43px;top:131.00px;color:#000;transform:scaleX(1.0200)">10076</div>
<div class="t" style="left:960.70px;top:131.00px;color:#B4B4B4;-webkit-text-stroke:0.3px #B4B4B4;transform:scaleX(1.0800)">N/A</div>
<div class="t" style="left:1038.50px;top:131.00px;color:#6E6E6E;font-style:italic">3</div>
<div class="t" style="left:1057.20px;top:131.00px;color:#000;transform:scaleX(0.9961)">profit 8 bodů po 5 úsečkách na HFE; špatný CZI a SW</div>
<div class="t" style="left:75.96px;top:175.00px;color:#000;transform:scaleX(1.0400)">16:06</div>
<div class="t" style="left:190.67px;top:175.00px;color:#000;transform:scaleX(1.0200)">10124</div>
<div class="t" style="left:253.79px;top:175.00px;color:#000;transform:scaleX(1.0200)">8,28</div>
<div class="t" style="left:310.46px;top:175.00px;color:#000;transform:scaleX(1.0200)">832</div>
<div class="t" style="left:356.39px;top:175.00px;color:#000;transform:scaleX(1.0200)">-22,89</div>
<div class="t" style="left:434.05px;top:175.00px;color:#000;transform:scaleX(1.0200)">41,03</div>
<div class="t" style="left:555.90px;top:175.00px;color:#A5A5AD;transform:scaleX(1.0200)">64</div>
<div class="t" style="left:660.06px;top:175.00px;color:#000;transform:scaleX(1.0200)">10112</div>
<div class="t" style="left:728.26px;top:175.00px;color:#000;transform:scaleX(1.0200)">10112</div>
<div class="t" style="left:803.13px;top:175.00px;color:#000;transform:scaleX(1.0200)">10104</div>
<div class="t" style="left:878.96px;top:175.00px;color:#000;transform:scaleX(1.0200)">10114</div>
<div class="t" style="left:960.70px;top:175.00px;color:#B4B4B4;-webkit-text-stroke:0.3px #B4B4B4;transform:scaleX(1.0800)">N/A</div>
<div class="t" style="left:1038.50px;top:175.00px;color:#6E6E6E;font-style:italic">5</div>
<div class="t" style="left:1057.20px;top:175.00px;color:#000;transform:scaleX(1.0072)">profit 20 bodů při HFE po 4 úsečkách; špatný SW a CZI</div>
<div class="t" style="left:75.96px;top:196.80px;color:#000;transform:scaleX(1.0400)">19:15</div>
<div class="t" style="left:190.67px;top:196.80px;color:#000;transform:scaleX(1.0200)">10124</div>
<div class="t" style="left:253.79px;top:196.80px;color:#000;transform:scaleX(1.0200)">5,01</div>
<div class="t" style="left:310.46px;top:196.80px;color:#000;transform:scaleX(1.0200)">156</div>
<div class="t" style="left:353.21px;top:196.80px;color:#000;transform:scaleX(1.0200)">104,37</div>
<div class="t" style="left:434.05px;top:196.80px;color:#000;transform:scaleX(1.0200)">63,06</div>
<div class="t" style="left:555.90px;top:196.80px;color:#A5A5AD;transform:scaleX(1.0200)">41</div>
<div class="t" style="left:659.53px;top:196.80px;color:#000;transform:scaleX(1.0200)">10123</div>
<div class="t" style="left:727.73px;top:196.80px;color:#000;transform:scaleX(1.0200)">10121</div>
<div class="t" style="left:810.10px;top:196.80px;color:#B4B4B4;-webkit-text-stroke:0.3px #B4B4B4;transform:scaleX(1.0800)">N/A</div>
<div class="t" style="left:878.43px;top:196.80px;color:#000;transform:scaleX(1.0200)">10121</div>
<div class="t" style="left:960.70px;top:196.80px;color:#B4B4B4;-webkit-text-stroke:0.3px #B4B4B4;transform:scaleX(1.0800)">N/A</div>
<div class="t" style="left:1038.50px;top:196.80px;color:#6E6E6E;font-style:italic">0</div>
<div class="t" style="left:1057.20px;top:196.80px;color:#000;transform:scaleX(1.0292)">ztrátový obchod - nebrat; výstupní strategie 1-2-3 se objevila až 10 úsečkách; nízké volume</div>
<div class="t" style="left:77.00px;top:218.00px;color:#000;transform:scaleX(1.0400)">20:27</div>
<div class="t" style="left:192.79px;top:218.00px;color:#000;transform:scaleX(1.0200)">10111</div>
<div class="t" style="left:253.79px;top:218.00px;color:#000;transform:scaleX(1.0200)">6,03</div>
<div class="t" style="left:310.46px;top:218.00px;color:#000;transform:scaleX(1.0200)">458</div>
<div class="t" style="left:348.45px;top:218.00px;color:#000;transform:scaleX(1.0200)">-144,33</div>
<div class="t" style="left:429.29px;top:218.00px;color:#000;transform:scaleX(1.0200)">-86,66</div>
<div class="t" style="left:555.90px;top:218.00px;color:#A5A5AD;transform:scaleX(1.0200)">58</div>
<div class="t" style="left:660.59px;top:218.00px;color:#000;transform:scaleX(1.0200)">10111</div>
<div class="t" style="left:728.26px;top:218.00px;color:#000;transform:scaleX(1.0200)">10110</div>
<div class="t" style="left:810.10px;top:218.00px;color:#B4B4B4;-webkit-text-stroke:0.3px #B4B4B4;transform:scaleX(1.0800)">N/A</div>
<div class="t" style="left:879.49px;top:218.00px;color:#000;transform:scaleX(1.0200)">10111</div>
<div class="t" style="left:953.73px;top:218.00px;color:#000;transform:scaleX(1.0200)">10098</div>
<div class="t" style="left:1038.50px;top:218.00px;color:#6E6E6E;font-style:italic">3</div>
<div class="t" style="left:1057.20px;top:218.00px;color:#000;transform:scaleX(1.0057)">signální CCI moc vysoko; TCCI po 8 úsečkách dává 13 bodů; proběhla korekce zpět ke vstupní ceně, ale</div>
<div class="t" style="left:75.96px;top:282.50px;color:#000;transform:scaleX(1.0400)">18:00</div>
<div class="t" style="left:190.67px;top:282.50px;color:#000;transform:scaleX(1.0200)">10136</div>
<div class="t" style="left:253.79px;top:282.50px;color:#000;transform:scaleX(1.0200)">6,48</div>
<div class="t" style="left:310.46px;top:282.50px;color:#000;transform:scaleX(1.0200)">346</div>
<div class="t" style="left:348.45px;top:282.50px;color:#000;transform:scaleX(1.0200)">-100,23</div>
<div class="t" style="left:429.29px;top:282.50px;color:#000;transform:scaleX(1.0200)">-87,58</div>
<div class="t" style="left:555.90px;top:282.50px;color:#A5A5AD;transform:scaleX(1.0200)">13</div>
<div class="t" style="left:659.53px;top:282.50px;color:#000;transform:scaleX(1.0200)">10123</div>
<div class="t" style="left:727.73px;top:282.50px;color:#000;transform:scaleX(1.0200)">10125</div>
<div class="t" style="left:803.13px;top:282.50px;color:#000;transform:scaleX(1.0200)">10124</div>
<div class="t" style="left:878.43px;top:282.50px;color:#000;transform:scaleX(1.0200)">10125</div>
<div class="t" style="left:953.73px;top:282.50px;color:#000;transform:scaleX(1.0200)">10123</div>
<div class="t" style="left:1038.50px;top:282.50px;color:#6E6E6E;font-style:italic">0</div>
<div class="t" style="left:1057.20px;top:282.50px;color:#000;transform:scaleX(1.0104)">ztrátový obchod - nebrat; klesající ATR (oběd v US ?); malý CCI rozdíl</div>
<div class="t" style="left:75.96px;top:304.30px;color:#000;transform:scaleX(1.0400)">19:45</div>
<div class="t" style="left:191.73px;top:304.30px;color:#000;transform:scaleX(1.0200)">10114</div>
<div class="t" style="left:253.79px;top:304.30px;color:#000;transform:scaleX(1.0200)">6,13</div>
<div class="t" style="left:310.46px;top:304.30px;color:#000;transform:scaleX(1.0200)">196</div>
<div class="t" style="left:356.39px;top:304.30px;color:#000;transform:scaleX(1.0200)">-62,75</div>
<div class="t" style="left:437.23px;top:304.30px;color:#000;transform:scaleX(1.0200)">-16,8</div>
<div class="t" style="left:555.90px;top:304.30px;color:#A5A5AD;transform:scaleX(1.0200)">46</div>
<div class="t" style="left:660.06px;top:304.30px;color:#000;transform:scaleX(1.0200)">10115</div>
<div class="t" style="left:734.70px;top:304.30px;color:#B4B4B4;-webkit-text-stroke:0.3px #B4B4B4;transform:scaleX(1.0800)">N/A</div>
<div class="t" style="left:810.10px;top:304.30px;color:#B4B4B4;-webkit-text-stroke:0.3px #B4B4B4;transform:scaleX(1.0800)">N/A</div>
<div class="t" style="left:878.96px;top:304.30px;color:#000;transform:scaleX(1.0200)">10117</div>
<div class="t" style="left:960.70px;top:304.30px;color:#B4B4B4;-webkit-text-stroke:0.3px #B4B4B4;transform:scaleX(1.0800)">N/A</div>
<div class="t" style="left:1038.50px;top:304.30px;color:#6E6E6E;font-style:italic">0</div>
<div class="t" style="left:1057.20px;top:304.30px;color:#000;transform:scaleX(1.0416)">ztrátový obchod - nebrat; nízké volume</div>
<div class="t" style="left:77.00px;top:326.00px;color:#000;transform:scaleX(1.0400)">20:42</div>
<div class="t" style="left:190.67px;top:326.00px;color:#000;transform:scaleX(1.0200)">10084</div>
<div class="t" style="left:253.79px;top:326.00px;color:#000;transform:scaleX(1.0200)">7,45</div>
<div class="t" style="left:302.51px;top:326.00px;color:#000;transform:scaleX(1.0200)">1333</div>
<div class="t" style="left:348.45px;top:326.00px;color:#000;transform:scaleX(1.0200)">-107,43</div>
<div class="t" style="left:437.23px;top:326.00px;color:#000;transform:scaleX(1.0200)">-53,3</div>
<div class="t" style="left:555.90px;top:326.00px;color:#A5A5AD;transform:scaleX(1.0200)">54</div>
<div class="t" style="left:659.53px;top:326.00px;color:#000;transform:scaleX(1.0200)">10076</div>
<div class="t" style="left:727.73px;top:326.00px;color:#000;transform:scaleX(1.0200)">10079</div>
<div class="t" style="left:810.10px;top:326.00px;color:#B4B4B4;-webkit-text-stroke:0.3px #B4B4B4;transform:scaleX(1.0800)">N/A</div>
<div class="t" style="left:878.43px;top:326.00px;color:#000;transform:scaleX(1.0200)">10079</div>
<div class="t" style="left:953.73px;top:326.00px;color:#000;transform:scaleX(1.0200)">10068</div>
<div class="t" style="left:1038.50px;top:326.00px;color:#6E6E6E;font-style:italic">4</div>
<div class="t" style="left:1057.20px;top:326.00px;color:#000;transform:scaleX(1.0064)">TCCI cross vítězí na 16 bodech po 2 úsečkách; prolomení low dne; signální CCI dost vysoko</div>
<div class="t" style="left:75.96px;top:369.00px;color:#000;transform:scaleX(1.0400)">15:54</div>
<div class="t" style="left:190.67px;top:369.00px;color:#000;transform:scaleX(1.0200)">10132</div>
<div class="t" style="left:253.79px;top:369.00px;color:#000;transform:scaleX(1.0200)">9,03</div>
<div class="t" style="left:302.51px;top:369.00px;color:#000;transform:scaleX(1.0200)">1058</div>
<div class="t" style="left:353.21px;top:369.00px;color:#000;transform:scaleX(1.0200)">124,32</div>
<div class="t" style="left:426.11px;top:369.00px;color:#000;transform:scaleX(1.0200)">103,68</div>
<div class="t" style="left:555.90px;top:369.00px;color:#A5A5AD;transform:scaleX(1.0200)">21</div>
<div class="t" style="left:659.53px;top:369.00px;color:#000;transform:scaleX(1.0200)">10124</div>
<div class="t" style="left:727.73px;top:369.00px;color:#000;transform:scaleX(1.0200)">10124</div>
<div class="t" style="left:810.10px;top:369.00px;color:#B4B4B4;-webkit-text-stroke:0.3px #B4B4B4;transform:scaleX(1.0800)">N/A</div>
<div class="t" style="left:878.43px;top:369.00px;color:#000;transform:scaleX(1.0200)">10124</div>
<div class="t" style="left:953.73px;top:369.00px;color:#000;transform:scaleX(1.0200)">10127</div>
<div class="t" style="left:1038.50px;top:369.00px;color:#6E6E6E;font-style:italic">2</div>
<div class="t" style="left:1057.20px;top:369.00px;color:#000;transform:scaleX(1.0098)">signální CCI moc vysoko; moc brzo po otevření trhu; TCCI dává nejhorší výsledek</div>
<div class="t" style="left:75.96px;top:391.00px;color:#000;transform:scaleX(1.0400)">17:27</div>
<div class="t" style="left:190.67px;top:391.00px;color:#000;transform:scaleX(1.0200)">10103</div>
<div class="t" style="left:253.79px;top:391.00px;color:#000;transform:scaleX(1.0200)">8,81</div>
<div class="t" style="left:310.46px;top:391.00px;color:#000;transform:scaleX(1.0200)">789</div>
<div class="t" style="left:361.15px;top:391.00px;color:#000;transform:scaleX(1.0200)">91,19</div>
<div class="t" style="left:434.05px;top:391.00px;color:#000;transform:scaleX(1.0200)">74,02</div>
<div class="t" style="left:555.90px;top:391.00px;color:#A5A5AD;transform:scaleX(1.0200)">17</div>
<div class="t" style="left:659.53px;top:391.00px;color:#000;transform:scaleX(1.0200)">10101</div>
<div class="t" style="left:734.70px;top:391.00px;color:#B4B4B4;-webkit-text-stroke:0.3px #B4B4B4;transform:scaleX(1.0800)">N/A</div>
<div class="t" style="left:810.10px;top:391.00px;color:#B4B4B4;-webkit-text-stroke:0.3px #B4B4B4;transform:scaleX(1.0800)">N/A</div>
<div class="t" style="left:878.43px;top:391.00px;color:#000;transform:scaleX(1.0200)">10094</div>
<div class="t" style="left:953.73px;top:391.00px;color:#000;transform:scaleX(1.0200)">10104</div>
<div class="t" style="left:1039.50px;top:391.00px;color:#6E6E6E;font-style:italic">1</div>
<div class="t" style="left:1057.20px;top:391.00px;color:#000;transform:scaleX(1.0081)">ztrátový obchod - nebrat; menší CCI rozdíl; TCCI jako záchranná brzda hned na další úsečce</div>
<div class="t" style="left:75.96px;top:412.30px;color:#000;transform:scaleX(1.0400)">18:54</div>
<div class="t" style="left:190.67px;top:412.30px;color:#000;transform:scaleX(1.0200)">10103</div>
<div class="t" style="left:253.79px;top:412.30px;color:#000;transform:scaleX(1.0200)">5,92</div>
<div class="t" style="left:310.46px;top:412.30px;color:#000;transform:scaleX(1.0200)">301</div>
<div class="t" style="left:361.15px;top:412.30px;color:#000;transform:scaleX(1.0200)">59,61</div>
<div class="t" style="left:434.05px;top:412.30px;color:#000;transform:scaleX(1.0200)">29,25</div>
<div class="t" style="left:555.90px;top:412.30px;color:#A5A5AD;transform:scaleX(1.0200)">30</div>
<div class="t" style="left:659.53px;top:412.30px;color:#000;transform:scaleX(1.0200)">10101</div>
<div class="t" style="left:727.73px;top:412.30px;color:#000;transform:scaleX(1.0200)">10104</div>
<div class="t" style="left:810.10px;top:412.30px;color:#B4B4B4;-webkit-text-stroke:0.3px #B4B4B4;transform:scaleX(1.0800)">N/A</div>
<div class="t" style="left:878.43px;top:412.30px;color:#000;transform:scaleX(1.0200)">10101</div>
<div class="t" style="left:953.73px;top:412.30px;color:#000;transform:scaleX(1.0200)">10105</div>
<div class="t" style="left:1039.50px;top:412.30px;color:#6E6E6E;font-style:italic">1</div>
<div class="t" style="left:1057.20px;top:412.30px;color:#000;transform:scaleX(1.0160)">ztrátový obchod - nebrat; špatný CZI a SW</div>
<div class="t" style="left:77.00px;top:433.20px;color:#000;transform:scaleX(1.0400)">20:30</div>
<div class="t" style="left:190.67px;top:433.20px;color:#000;transform:scaleX(1.0200)">10104</div>
<div class="t" style="left:261.73px;top:433.20px;color:#000;transform:scaleX(1.0200)">5,6</div>
<div class="t" style="left:310.46px;top:433.20px;color:#000;transform:scaleX(1.0200)">216</div>
<div class="t" style="left:361.15px;top:433.20px;color:#000;transform:scaleX(1.0200)">62,69</div>
<div class="t" style="left:434.05px;top:433.20px;color:#000;transform:scaleX(1.0200)">37,67</div>
<div class="t" style="left:555.90px;top:433.20px;color:#A5A5AD;transform:scaleX(1.0200)">25</div>
<div class="t" style="left:660.06px;top:433.20px;color:#000;transform:scaleX(1.0200)">10113</div>
<div class="t" style="left:728.26px;top:433.20px;color:#000;transform:scaleX(1.0200)">10113</div>
<div class="t" style="left:810.10px;top:433.20px;color:#B4B4B4;-webkit-text-stroke:0.3px #B4B4B4;transform:scaleX(1.0800)">N/A</div>
<div class="t" style="left:878.43px;top:433.20px;color:#000;transform:scaleX(1.0200)">10101</div>
<div class="t" style="left:960.70px;top:433.20px;color:#B4B4B4;-webkit-text-stroke:0.3px #B4B4B4;transform:scaleX(1.0800)">N/A</div>
<div class="t" style="left:1038.50px;top:433.20px;color:#6E6E6E;font-style:italic">3</div>
<div class="t" style="left:1057.20px;top:433.20px;color:#000;transform:scaleX(1.0246)">hned další úsečka korekce o -8 bodů; následuje pozvolné stoupání a po 10-ti úsečkách dávají strategie 1-2-3</div>
<div class="t" style="left:1057.20px;top:239.50px;color:#000">nepřesáhla ji</div>
<div class="t" style="left:1057.20px;top:455.00px;color:#000;transform:scaleX(1.0410)">a 100 cross profit 9 bodů</div>
</body></html>
